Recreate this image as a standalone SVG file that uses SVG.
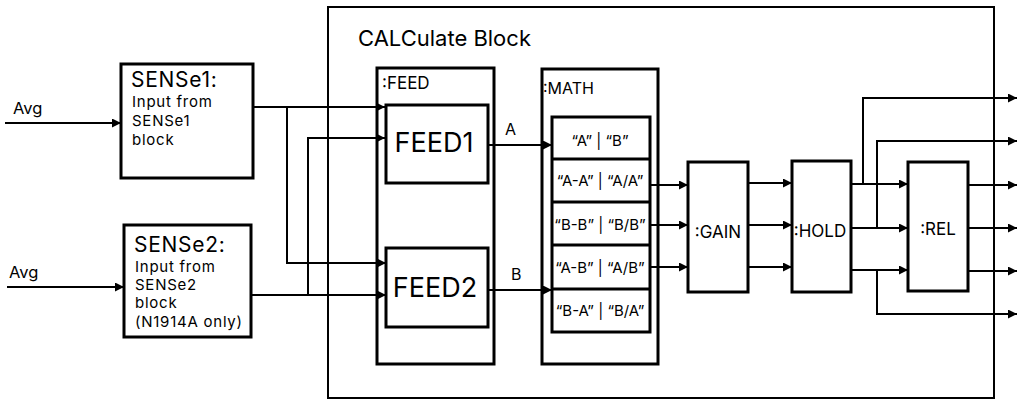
<svg xmlns="http://www.w3.org/2000/svg" width="1020" height="405" viewBox="0 0 1020 405">
<style>
  .box { fill: none; stroke: #000; stroke-width: 3; }
  .outer { fill: none; stroke: #000; stroke-width: 2; }
  .ln { fill: none; stroke: #000; stroke-width: 2; }
  .ar { marker-end: url(#ah); }
  text { font-family: Inter, "Noto Sans", "Liberation Sans", sans-serif; fill: #000; }
  .body { font-size: 15px; letter-spacing: 0.75px; }
  .t16 { font-size: 16px; }
  .t17 { font-size: 17px; }
  .hd { font-size: 21px; letter-spacing: 0.7px; }
  .op { font-size: 15px; text-anchor: middle; }
  .fd { font-size: 27px; text-anchor: middle; }
  .mid { text-anchor: middle; }
</style>
<defs>
  <marker id="ah" markerUnits="userSpaceOnUse" markerWidth="9" markerHeight="9" viewBox="0 0 9 9" refX="9" refY="4.5" orient="auto">
    <path d="M0,0 L9,4.5 L0,9 z" fill="#000"/>
  </marker>
</defs>
<rect width="1020" height="405" fill="#fff"/>

<g id="calculate-block">
  <rect class="outer" x="328" y="7" width="666" height="391"/>
  <text x="358" y="46" style="font-size:22px">CALCulate Block</text>
</g>

<g id="sense1">
  <rect class="box" x="121" y="64" width="132" height="114"/>
  <text x="131" y="87" class="hd">SENSe1:</text>
  <text class="body"><tspan x="132" y="107">Input from</tspan><tspan x="132" y="126">SENSe1</tspan><tspan x="132" y="145">block</tspan></text>
</g>

<g id="sense2">
  <rect class="box" x="124" y="225" width="127" height="112"/>
  <text x="134" y="252" class="hd">SENSe2:</text>
  <text class="body"><tspan x="135" y="272">Input from</tspan><tspan x="135" y="290">SENSe2</tspan><tspan x="135" y="308">block</tspan><tspan x="135" y="327">(N1914A only)</tspan></text>
</g>

<g id="feed">
  <rect class="box" x="377" y="68" width="117" height="296"/>
  <text x="382" y="89" class="t17">:FEED</text>
</g>
<g id="feed1">
  <rect class="box" x="386" y="105" width="102" height="78"/>
  <text x="434" y="152" class="fd">FEED1</text>
</g>
<g id="feed2">
  <rect class="box" x="386" y="248" width="102" height="79"/>
  <text x="435" y="297" class="fd">FEED2</text>
</g>

<g id="math">
  <rect class="box" x="542" y="69" width="116" height="295"/>
  <text x="543" y="94" class="t16">:MATH</text>
</g>
<g id="math-ops">
  <rect class="box" x="552" y="117" width="98" height="215"/>
  <line class="box" x1="552" y1="159" x2="650" y2="159"/>
  <line class="box" x1="552" y1="202" x2="650" y2="202"/>
  <line class="box" x1="552" y1="245" x2="650" y2="245"/>
  <line class="box" x1="552" y1="289" x2="650" y2="289"/>
  <text x="600" y="146" class="op">“A” | “B”</text>
  <text x="600" y="186" class="op">“A-A” | “A/A”</text>
  <text x="600" y="230" class="op">“B-B” | “B/B”</text>
  <text x="600" y="273" class="op">“A-B” | “A/B”</text>
  <text x="600" y="316" class="op">“B-A” | “B/A”</text>
</g>

<g id="gain">
  <rect class="box" x="688" y="162" width="60" height="130"/>
  <text x="718" y="238" class="t17 mid">:GAIN</text>
</g>
<g id="hold">
  <rect class="box" x="792" y="161" width="59" height="131"/>
  <text x="820" y="237" class="t17 mid">:HOLD</text>
</g>
<g id="rel">
  <rect class="box" x="908" y="162" width="60" height="129"/>
  <text x="938" y="235" class="t17 mid">:REL</text>
</g>

<g id="labels">
  <text x="13" y="114" style="font-size:16.5px">Avg</text>
  <text x="9" y="278" style="font-size:16.5px">Avg</text>
  <text x="505" y="135" class="t16">A</text>
  <text x="511" y="280" class="t16">B</text>
</g>

<g id="connectors">
  <path class="ln ar" d="M5,123 H121"/>
  <path class="ln ar" d="M7,287 H124"/>
  <path class="ln ar" d="M253,107 H385"/>
  <path class="ln ar" d="M287,107 V263 H386"/>
  <path class="ln ar" d="M251,295 H386"/>
  <path class="ln ar" d="M308,295 V138 H385"/>
  <path class="ln ar" d="M488,145 H552"/>
  <path class="ln ar" d="M488,290 H552"/>
  <path class="ln ar" d="M650,185 H688"/>
  <path class="ln ar" d="M650,225 H688"/>
  <path class="ln ar" d="M650,267 H688"/>
  <path class="ln ar" d="M748,183 H792"/>
  <path class="ln ar" d="M748,225 H792"/>
  <path class="ln ar" d="M748,267 H792"/>
  <path class="ln ar" d="M851,184 H908"/>
  <path class="ln ar" d="M851,228 H908"/>
  <path class="ln ar" d="M851,270 H908"/>
  <path class="ln ar" d="M863,184 V98 H1017"/>
  <path class="ln ar" d="M877,228 V141 H1017"/>
  <path class="ln ar" d="M877,270 V314 H1017"/>
  <path class="ln ar" d="M968,185 H1017"/>
  <path class="ln ar" d="M968,228 H1017"/>
  <path class="ln ar" d="M968,271 H1017"/>
</g>
</svg>
